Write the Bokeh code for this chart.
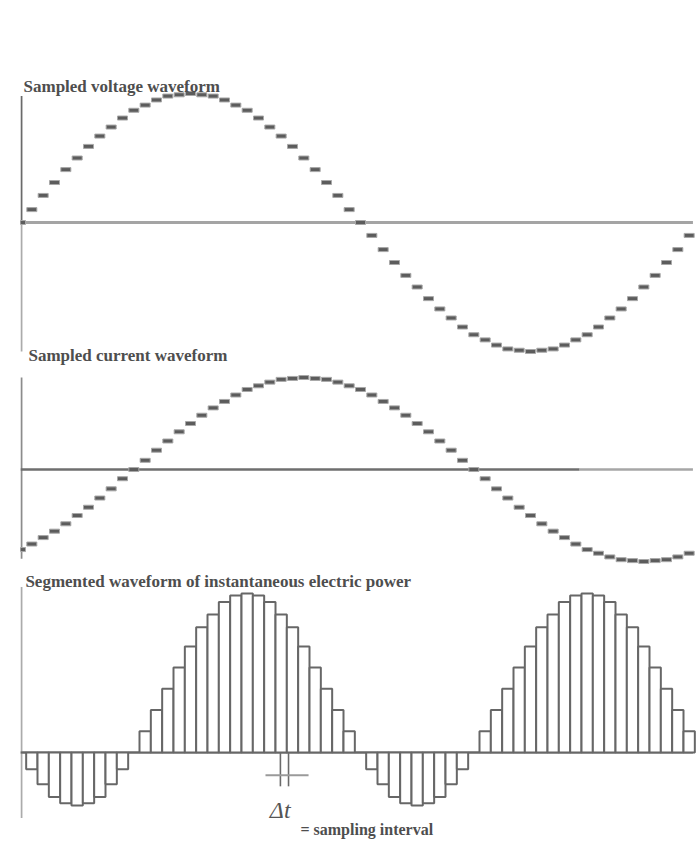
from bokeh.plotting import figure
from bokeh.models import Range1d
from bokeh.core.properties import value
from bokeh.embed import file_html
from bokeh.resources import INLINE

# ---- data ----
sample_deg = [0, 6, 12, 18, 24, 30, 36, 42, 48, 54, 60, 66, 72, 78, 84, 90, 96, 102, 108, 114,
              120, 126, 132, 138, 144, 150, 156, 162, 168, 174, 180, 186, 192, 198, 204, 210,
              216, 222, 228, 234, 240, 246, 252, 258, 264, 270, 276, 282, 288, 294, 300, 306,
              312, 318, 324, 330, 336, 342, 348, 354]

voltage = [0.00, 0.10, 0.21, 0.31, 0.41, 0.50, 0.59, 0.67, 0.74, 0.81, 0.87, 0.91, 0.95, 0.98,
           0.99, 1.00, 0.99, 0.98, 0.95, 0.91, 0.87, 0.81, 0.74, 0.67, 0.59, 0.50, 0.41, 0.31,
           0.21, 0.10, 0.00, -0.10, -0.21, -0.31, -0.41, -0.50, -0.59, -0.67, -0.74, -0.81,
           -0.87, -0.91, -0.95, -0.98, -0.99, -1.00, -0.99, -0.98, -0.95, -0.91, -0.87, -0.81,
           -0.74, -0.67, -0.59, -0.50, -0.41, -0.31, -0.21, -0.10]

current = [-0.87, -0.81, -0.74, -0.67, -0.59, -0.50, -0.41, -0.31, -0.21, -0.10, 0.00, 0.10,
           0.21, 0.31, 0.41, 0.50, 0.59, 0.67, 0.74, 0.81, 0.87, 0.91, 0.95, 0.98, 0.99, 1.00,
           0.99, 0.98, 0.95, 0.91, 0.87, 0.81, 0.74, 0.67, 0.59, 0.50, 0.41, 0.31, 0.21, 0.10,
           0.00, -0.10, -0.21, -0.31, -0.41, -0.50, -0.59, -0.67, -0.74, -0.81, -0.87, -0.91,
           -0.95, -0.98, -0.99, -1.00, -0.99, -0.98, -0.95, -0.91]

power = [0.00, -0.08, -0.15, -0.21, -0.24, -0.25, -0.24, -0.21, -0.15, -0.08, 0.00, 0.10, 0.20,
         0.30, 0.40, 0.50, 0.59, 0.65, 0.71, 0.74, 0.75, 0.74, 0.71, 0.65, 0.59, 0.50, 0.40, 0.30,
         0.20, 0.10, 0.00, -0.08, -0.15, -0.21, -0.24, -0.25, -0.24, -0.21, -0.15, -0.08, 0.00,
         0.10, 0.20, 0.30, 0.40, 0.50, 0.59, 0.65, 0.71, 0.74, 0.75, 0.74, 0.71, 0.65, 0.59, 0.50,
         0.40, 0.30, 0.20, 0.10]

titles = ["Sampled voltage waveform", "Sampled current waveform",
          "Segmented waveform of instantaneous electric power"]
footnote = "= sampling interval"
delta_label = "\u0394t"

# ---- figure ----
p = figure(width=700, height=842, x_range=Range1d(0, 360), y_range=Range1d(-4.806, 1.721),
           output_backend="svg", toolbar_location=None,
           x_axis_location=None, y_axis_location=None,
           min_border_left=20, min_border_right=0, min_border_top=0, min_border_bottom=0)
p.extra_y_ranges = {"cur": Range1d(-4.054, 5.098), "pow": Range1d(-0.425, 3.547)}
p.grid.visible = False
p.outline_line_color = None
p.background_fill_color = "white"
p.border_fill_color = "white"

TXT = "#4e4e4e"
FONT = value("Liberation Serif")

# ---------- panel 1 : voltage ----------
p.segment(x0=[0.5], y0=[0.0], x1=[0.5], y1=[0.98], line_color="#6a6a6a", line_width=2)
p.segment(x0=[0.5], y0=[-1.0], x1=[0.5], y1=[0.0], line_color="#ababab", line_width=2)
p.segment(x0=[0], y0=[0], x1=[356], y1=[0], line_color="#a4a4a4", line_width=3)
p.rect(x=sample_deg, y=voltage, width=10, height=4, width_units="screen", height_units="screen",
       fill_color="#5c5c5c", line_color="#a8a8a8", line_width=1)
p.text(x=[1.6], y=[1.054], text=[titles[0]], text_font=FONT, text_font_style="bold",
       text_font_size="17px", text_color=TXT, text_baseline="alphabetic")

# ---------- panel 2 : current ----------
p.segment(x0=[0.5], y0=[-0.97], x1=[0.5], y1=[1.0], line_color="#8c8c8c", line_width=2,
          y_range_name="cur")
p.segment(x0=[0], y0=[0], x1=[296], y1=[0], line_color="#6e6e6e", line_width=2.5,
          y_range_name="cur")
p.segment(x0=[296], y0=[0], x1=[356], y1=[0], line_color="#a6a6a6", line_width=2.5,
          y_range_name="cur")
p.rect(x=sample_deg, y=current, width=10, height=4, width_units="screen", height_units="screen",
       fill_color="#5c5c5c", line_color="#a8a8a8", line_width=1, y_range_name="cur")
p.text(x=[4.2], y=[1.239], text=[titles[1]], text_font=FONT, text_font_style="bold",
       text_font_size="17px", text_color=TXT, text_baseline="alphabetic", y_range_name="cur")

# ---------- panel 3 : power ----------
p.segment(x0=[0.5], y0=[-0.31], x1=[0.5], y1=[0.78], line_color="#ababab", line_width=2,
          y_range_name="pow")
p.segment(x0=[0], y0=[0], x1=[356], y1=[0], line_color="#9c9c9c", line_width=2.5,
          y_range_name="pow")
p.vbar(x=sample_deg, width=6, top=power, bottom=0, fill_color="white",
       line_color="#676767", line_width=2, y_range_name="pow")
p.text(x=[2.6], y=[0.807], text=[titles[2]], text_font=FONT, text_font_style="bold",
       text_font_size="17px", text_color=TXT, text_baseline="alphabetic", y_range_name="pow")

# delta-t marker
p.segment(x0=[137.6, 141.9], y0=[0, 0], x1=[137.6, 141.9], y1=[-0.16, -0.16],
          line_color="#6a6a6a", line_width=1.6, y_range_name="pow")
p.segment(x0=[129.7], y0=[-0.108], x1=[152.5], y1=[-0.108], line_color="#9a9a9a",
          line_width=2, y_range_name="pow")
p.text(x=[132.0], y=[-0.274], text=[delta_label], text_font=FONT, text_font_style="italic",
       text_font_size="24px", text_color="#555555", text_baseline="alphabetic",
       y_range_name="pow")
p.text(x=[148.2], y=[-0.362], text=[footnote], text_font=FONT, text_font_style="bold",
       text_font_size="16px", text_color=TXT, text_baseline="alphabetic", y_range_name="pow")

open("out.html", "w").write(file_html(p, INLINE))
